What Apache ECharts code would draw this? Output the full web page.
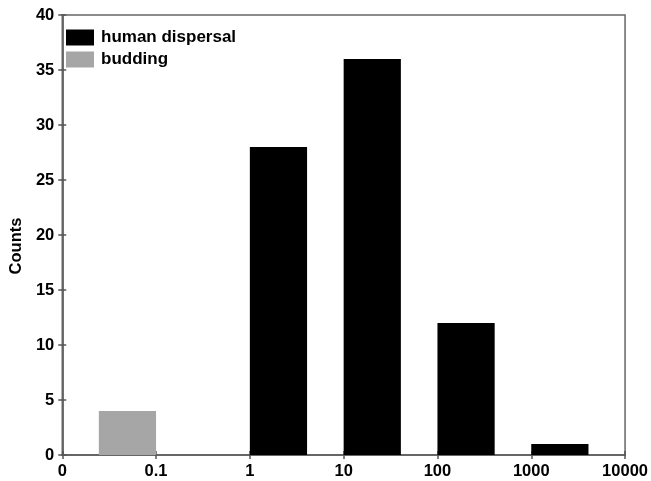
<!DOCTYPE html>
<html>
<head>
<meta charset="utf-8">
<script src="https://cdn.jsdelivr.net/npm/echarts@6/dist/echarts.min.js"></script>
<style>html,body{margin:0;padding:0;background:#fff;}#c{width:651px;height:481px;}</style>
</head>
<body>
<div id="c"></div>
<script>
// Tick labels along the x axis (one per integer position 0..6)
var xTickLabels = ['0', '0.1', '1', '10', '100', '1000', '10000'];
// Bars: start / end positions on the x axis (tick-index units) and counts
var humanStart = [2, 3, 4, 5];
var humanEnd = [2.61, 3.61, 4.61, 5.61];
var humanCounts = [28, 36, 12, 1];
var buddingStart = [0.39];
var buddingEnd = [1];
var buddingCounts = [4];

function toData(s, e, c) {
  return s.map(function (v, i) { return [v, e[i], c[i]]; });
}
function renderBar(params, api) {
  var p0 = api.coord([api.value(0), api.value(2)]);
  var p1 = api.coord([api.value(1), 0]);
  return {
    type: 'rect',
    shape: { x: p0[0], y: p0[1], width: p1[0] - p0[0], height: p1[1] - p0[1] },
    style: { fill: api.visual('color') }
  };
}
var font = 'Liberation Sans, Arial, sans-serif';
var chart = echarts.init(document.getElementById('c'), null, { renderer: 'canvas' });
var tickStyle = { show: true, inside: true, length: 4, lineStyle: { color: '#555', width: 1.5 } };
chart.setOption({
  animation: false,
  grid: { left: 61, top: 15, right: 24, bottom: 26, show: true, borderColor: '#666', borderWidth: 1.5, backgroundColor: 'transparent' },
  legend: {
    orient: 'vertical', left: 61, top: 24, itemWidth: 28, itemHeight: 16, itemGap: 5,
    selectedMode: false,
    textStyle: { fontFamily: font, fontWeight: 'bold', fontSize: 17, color: '#000', padding: [0, 0, 0, 2] },
    data: [
      { name: 'human dispersal', icon: 'rect', itemStyle: { color: '#000' } },
      { name: 'budding', icon: 'rect', itemStyle: { color: '#a6a6a6' } }
    ]
  },
  xAxis: [{
    type: 'value', min: 0, max: 6, interval: 1, position: 'bottom',
    axisLine: { show: true, lineStyle: { color: '#666', width: 1.5 } },
    axisTick: tickStyle,
    splitLine: { show: false },
    axisLabel: { fontFamily: font, fontWeight: 'bold', fontSize: 16.5, color: '#000', margin: 8,
      formatter: function (v) { return xTickLabels[Math.round(v)]; } }
  }, {
    type: 'value', min: 0, max: 6, interval: 1, position: 'top',
    axisLine: { show: true, lineStyle: { color: '#666', width: 1.5 } },
    axisTick: tickStyle, splitLine: { show: false }, axisLabel: { show: false }
  }],
  yAxis: [{
    type: 'value', min: 0, max: 40, interval: 5, position: 'left',
    name: 'Counts', nameLocation: 'middle', nameGap: 37, nameRotate: 90,
    nameTextStyle: { fontFamily: font, fontWeight: 'bold', fontSize: 16.5, color: '#000', padding: [0, 22, 0, 0] },
    axisLine: { show: true, lineStyle: { color: '#666', width: 1.5 } },
    axisTick: tickStyle, splitLine: { show: false },
    axisLabel: { fontFamily: font, fontWeight: 'bold', fontSize: 16.5, color: '#000', margin: 8 }
  }, {
    type: 'value', min: 0, max: 40, interval: 5, position: 'right',
    axisLine: { show: true, lineStyle: { color: '#666', width: 1.5 } },
    axisTick: tickStyle, splitLine: { show: false }, axisLabel: { show: false }
  }],
  series: [{
    name: 'human dispersal', type: 'custom', renderItem: renderBar,
    itemStyle: { color: '#000' }, encode: { x: [0, 1], y: 2 },
    data: toData(humanStart, humanEnd, humanCounts)
  }, {
    name: 'budding', type: 'custom', renderItem: renderBar,
    itemStyle: { color: '#a6a6a6' }, encode: { x: [0, 1], y: 2 },
    data: toData(buddingStart, buddingEnd, buddingCounts)
  }]
});
</script>
</body>
</html>
